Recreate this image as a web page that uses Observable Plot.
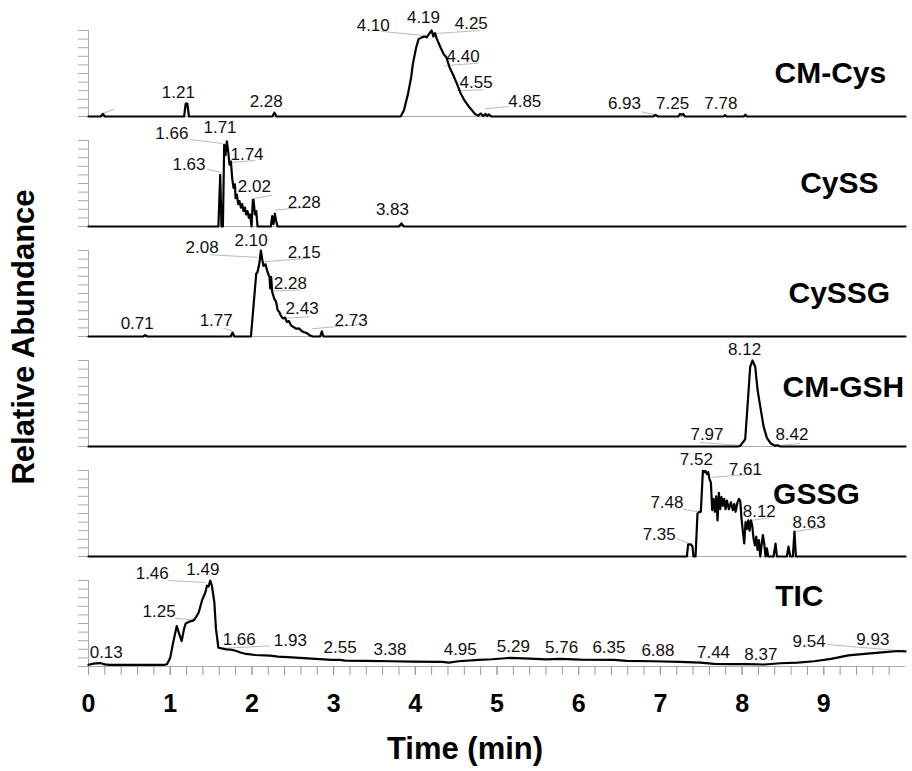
<!DOCTYPE html>
<html><head><meta charset="utf-8">
<script src="https://cdn.jsdelivr.net/npm/d3@7"></script>
<script src="https://cdn.jsdelivr.net/npm/@observablehq/plot@0.6"></script>
<style>
body{margin:0;background:#fff;}
#wrap{position:relative;width:912px;height:771px;font-family:"Liberation Sans",Arial,sans-serif;}
#ytitle{position:absolute;left:24px;top:337px;transform:translate(-50%,-50%) rotate(-90deg);font-weight:bold;font-size:31px;white-space:nowrap;}
#xtitle{position:absolute;left:465px;top:749px;transform:translate(-50%,-50%);font-weight:bold;font-size:31px;white-space:nowrap;}
</style></head><body>
<div id="wrap"><div id="ytitle">Relative Abundance</div><div id="xtitle">Time (min)</div></div>
<script>
const panels = ["CM-Cys","CySS","CySSG","CM-GSH","GSSG","TIC"];
const xMajorTicks = [0,1,2,3,4,5,6,7,8,9];

const cmCys = [[0,0],[0.15,0],[0.176,3],[0.2,0],[1.17,0],[1.19,15],[1.21,15],[1.23,0],[2.25,0],[2.277,4.5],[2.30,0],[3.82,0],[3.86,7],[3.91,26],[3.95,46],[3.97,61],[4.01,80],[4.04,90],[4.08,92],[4.12,93],[4.14,92],[4.175,97],[4.20,100],[4.22,93],[4.24,97],[4.265,90],[4.31,80],[4.35,72],[4.38,69],[4.42,57],[4.47,47],[4.51,38],[4.55,28],[4.60,19],[4.66,11],[4.73,3],[4.77,1],[4.80,3.5],[4.83,0.5],[4.86,3],[4.88,0.5],[4.90,2.5],[4.93,0],[6.91,0],[6.94,2],[6.97,0],[7.22,0],[7.24,3],[7.26,2],[7.28,3],[7.30,0],[7.77,0],[7.79,1.5],[7.81,0],[8.02,0],[8.04,2],[8.06,0],[10,0]];
const cySS = [[0,0],[1.59,0],[1.612,60],[1.628,0],[1.645,0],[1.661,95],[1.677,83],[1.694,99],[1.71,87],[1.726,72],[1.743,75.5],[1.759,56],[1.775,45],[1.792,49],[1.80,33],[1.816,37],[1.832,26],[1.848,29.5],[1.865,22],[1.881,26],[1.897,18],[1.914,22],[1.93,14],[1.946,18],[1.963,10],[1.979,14],[1.995,0],[2.012,31],[2.02,31],[2.037,14],[2.053,18],[2.069,0],[2.232,0],[2.248,12],[2.264,2.7],[2.281,15],[2.297,6.5],[2.314,0],[3.80,0],[3.83,3.5],[3.86,0],[10,0]];
const cySSG = [[0,0],[0.67,0],[0.694,1.5],[0.72,0],[1.74,0],[1.763,4.6],[1.785,0],[1.988,0],[2.053,73],[2.069,75],[2.093,86],[2.11,100],[2.126,90],[2.142,82],[2.166,84],[2.191,75],[2.216,69],[2.224,56],[2.236,69],[2.248,52],[2.273,44],[2.297,40],[2.314,31],[2.338,28],[2.355,24],[2.379,21],[2.404,22],[2.428,17],[2.453,18],[2.477,13],[2.51,11],[2.542,9],[2.575,9.5],[2.608,6.5],[2.64,5],[2.673,4],[2.714,1],[2.746,0],[2.836,0],[2.856,6],[2.876,0],[10,0]];
const cmGSH = [[0,0],[7.95,0],[7.977,0.8],[8.038,8.4],[8.066,46.7],[8.099,92.7],[8.127,100],[8.161,92.7],[8.189,66],[8.222,46.7],[8.262,23.7],[8.303,10],[8.352,3.5],[8.405,0.8],[8.433,1.5],[8.466,0],[10,0]];
const gssg = [[0,0],[7.324,0],[7.34,14],[7.373,14],[7.393,11.6],[7.405,0],[7.43,0],[7.454,50],[7.479,52],[7.495,52],[7.52,99.6],[7.536,98],[7.552,99.6],[7.569,96],[7.585,98],[7.601,90],[7.618,86],[7.634,54],[7.65,67],[7.667,52],[7.683,70],[7.699,42],[7.716,74],[7.732,55],[7.748,69],[7.765,59],[7.781,67],[7.797,55],[7.814,65],[7.838,55],[7.863,63],[7.887,54],[7.904,61],[7.92,52],[7.944,63],[7.961,67],[7.977,65],[7.993,44],[8.01,28.6],[8.026,15.3],[8.042,40],[8.059,32],[8.075,42],[8.091,30],[8.108,42],[8.124,36],[8.14,21],[8.157,13],[8.173,23],[8.189,7.7],[8.206,19],[8.222,0],[8.238,13],[8.254,25],[8.271,15],[8.287,0],[8.303,9.6],[8.32,0],[8.385,0],[8.409,15],[8.426,0],[8.548,0],[8.568,11.6],[8.589,0],[8.621,0],[8.641,29],[8.658,0],[10,0]];
const tic = [[0,2],[0.06,3.3],[0.14,4],[0.2,2.5],[0.26,2],[0.93,2],[0.96,2.6],[1.00,10],[1.04,29.5],[1.08,47],[1.11,38],[1.14,29.5],[1.17,44],[1.19,50],[1.23,52],[1.27,53],[1.29,54],[1.32,58],[1.35,63],[1.39,77],[1.43,86],[1.45,94],[1.47,93],[1.49,100],[1.51,94],[1.54,75],[1.56,44],[1.59,21.8],[1.63,21],[1.69,20],[1.75,19.5],[1.81,18],[1.87,16],[1.93,14.6],[2.04,13.4],[2.22,12.6],[2.32,11.5],[2.49,10.7],[2.73,9.2],[2.98,7.7],[3.08,7.7],[3.14,6.9],[3.39,6.5],[3.71,6.1],[3.96,5.7],[4.33,5.4],[4.41,4.6],[4.53,6.1],[4.78,7.7],[4.94,8.4],[5.10,9.6],[5.16,10],[5.40,9.2],[5.61,8.4],[5.77,8.8],[6.02,8],[6.43,7.7],[6.59,6.5],[6.91,6.1],[7.24,5.4],[7.49,4.6],[7.66,3],[7.90,2.7],[8.07,2.7],[8.27,2.3],[8.47,3.8],[8.68,4.6],[8.88,6.1],[9.09,8.8],[9.30,13],[9.50,14.6],[9.71,16.5],[9.91,18],[10,17.6]];

// peak annotations: [panel, text, t, abundance]
const peakLabels = [
 ["CM-Cys","1.21",1.10,27.6],["CM-Cys","2.28",2.175,17],["CM-Cys","4.10",3.485,106],["CM-Cys","4.19",4.10,115],
 ["CM-Cys","4.25",4.685,108],["CM-Cys","4.40",4.585,70],["CM-Cys","4.55",4.745,39],["CM-Cys","4.85",5.34,17.8],
 ["CM-Cys","6.93",6.56,15.5],["CM-Cys","7.25",7.15,15.5],["CM-Cys","7.78",7.74,15.5],
 ["CySS","1.66",1.02,108],["CySS","1.71",1.61,115],["CySS","1.63",1.23,72],["CySS","1.74",1.94,84],
 ["CySS","2.02",2.03,46],["CySS","2.28",2.64,27.6],["CySS","3.83",3.72,19.5],
 ["CySSG","2.08",1.39,103],["CySSG","2.10",1.99,111.5],["CySSG","2.15",2.64,98],["CySSG","2.28",2.47,62],
 ["CySSG","2.43",2.615,32],["CySSG","2.73",3.215,18.4],["CySSG","0.71",0.596,15],["CySSG","1.77",1.563,18.4],
 ["CM-GSH","8.12",8.03,112.6],["CM-GSH","7.97",7.57,13.8],["CM-GSH","8.42",8.61,13.8],
 ["GSSG","7.52",7.44,112.6],["GSSG","7.61",8.04,101],["GSSG","7.48",7.08,63],["GSSG","8.12",8.21,52],
 ["GSSG","7.35",6.985,26],["GSSG","8.63",8.82,39],
 ["TIC","1.46",0.78,108],["TIC","1.49",1.40,112.6],["TIC","1.25",0.865,64],["TIC","1.66",1.845,31],
 ["TIC","1.93",2.47,30],["TIC","2.55",3.08,21.8],["TIC","3.38",3.69,19.5],["TIC","4.95",4.55,19.5],
 ["TIC","0.13",0.217,16],["TIC","5.29",5.20,23],["TIC","5.76",5.79,21.8],["TIC","6.35",6.37,21.8],
 ["TIC","6.88",6.97,18.4],["TIC","7.44",7.65,16],["TIC","8.37",8.23,13.8],["TIC","9.54",8.82,28.7],["TIC","9.93",9.60,31]
];
// leader lines: [panel, t1, a1, t2, a2]
const leaders = [
 ["CM-Cys",0.18,3.8,0.31,8.4],["CM-Cys",3.58,99,4.12,94],["CM-Cys",4.25,96.5,4.79,100],["CM-Cys",4.36,59,4.77,62],
 ["CM-Cys",4.51,30,4.83,31],["CM-Cys",4.855,9,5.14,11.5],["CM-Cys",6.77,5.4,6.94,2],
 ["CySS",1.25,101,1.64,96.5],["CySS",1.455,66.7,1.62,63],["CySS",1.755,74.7,2.04,76.7],["CySS",2.02,32.5,2.245,36.4],["CySS",2.285,19,2.71,23],
 ["CySSG",1.49,95,2.075,92],["CySSG",2.15,87,2.71,91],["CySSG",2.25,53,2.59,54],["CySSG",2.38,21,2.71,23],["CySSG",2.74,9,3.32,13.8],["CySSG",1.65,9.5,1.755,7],
 ["CM-GSH",7.48,4.6,8.0,1.1],["CM-GSH",8.44,1.1,8.71,3.4],
 ["GSSG",7.63,92,8.22,96.5],["GSSG",7.28,55,7.46,52],["GSSG",8.04,41,8.34,45],["GSSG",7.2,20.7,7.34,16],["GSSG",8.65,29,9.02,34.5],
 ["TIC",0.98,100,1.43,97.7],["TIC",1.06,56,1.31,54],["TIC",1.63,21,2.22,24],["TIC",9.04,25.6,9.98,18]
];
// panel names: [panel, t, abundance]
const panelNames = [["CM-Cys",9.08,50],["CySS",9.19,50.6],["CySSG",9.19,50.6],["CM-GSH",9.24,69],["GSSG",8.91,72],["TIC",8.70,81.6]];

const series = {"CM-Cys": cmCys, "CySS": cySS, "CySSG": cySSG, "CM-GSH": cmGSH, "GSSG": gssg, "TIC": tic};
const traceRows = panels.flatMap(p => series[p].map(([t, a]) => ({panel: p, t, a})));
const labelRows = peakLabels.map(([panel, text, t, a]) => ({panel, text, t, a}));
const leaderRows = leaders.map(([panel, t1, a1, t2, a2]) => ({panel, t1, a1, t2, a2}));
const nameRows = panelNames.map(([panel, t, a]) => ({panel, t, a}));

const FONT = "Liberation Sans, Arial, sans-serif";
const chart = Plot.plot({
  width: 912, height: 771,
  marginLeft: 88, marginRight: 7, marginTop: 27, marginBottom: 102,
  style: {fontFamily: FONT, background: "white", color: "#000", overflow: "visible"},
  x: {domain: [0, 10]},
  y: {domain: [0, 100]},
  fy: {domain: panels, paddingInner: 0.2162, paddingOuter: 0, axis: null, label: null},
  marks: [
    Plot.axisY({ticks: d3.range(0, 101, 10), tickSize: 10, tickFormat: () => "", stroke: "#aaa", label: null}),
    Plot.ruleX([0], {stroke: "#aaa"}),
    Plot.ruleY([0], {stroke: "#aaa"}),
    Plot.axisX({ticks: d3.range(0, 50).map(i => i / 5), tickSize: 9, tickFormat: () => "", stroke: "#999", label: null}),
    Plot.axisX({ticks: xMajorTicks, tickSize: 9, tickPadding: 19, stroke: "#999", fill: "#000", fontSize: 25, fontWeight: "bold", label: null}),
    Plot.link(leaderRows, {x1: "t1", y1: "a1", x2: "t2", y2: "a2", fy: "panel", stroke: "#bbb", strokeWidth: 1}),
    Plot.line(traceRows, {x: "t", y: "a", z: "panel", fy: "panel", stroke: "#000", strokeWidth: 2.2}),
    Plot.text(labelRows, {x: "t", y: "a", text: "text", fy: "panel", fontSize: 17, fill: "#111"}),
    Plot.text(nameRows, {x: "t", y: "a", text: "panel", fy: "panel", fontSize: 30, fontWeight: "bold", fill: "#000"})
  ]
});
document.getElementById("wrap").prepend(chart);
</script>
</body></html>
